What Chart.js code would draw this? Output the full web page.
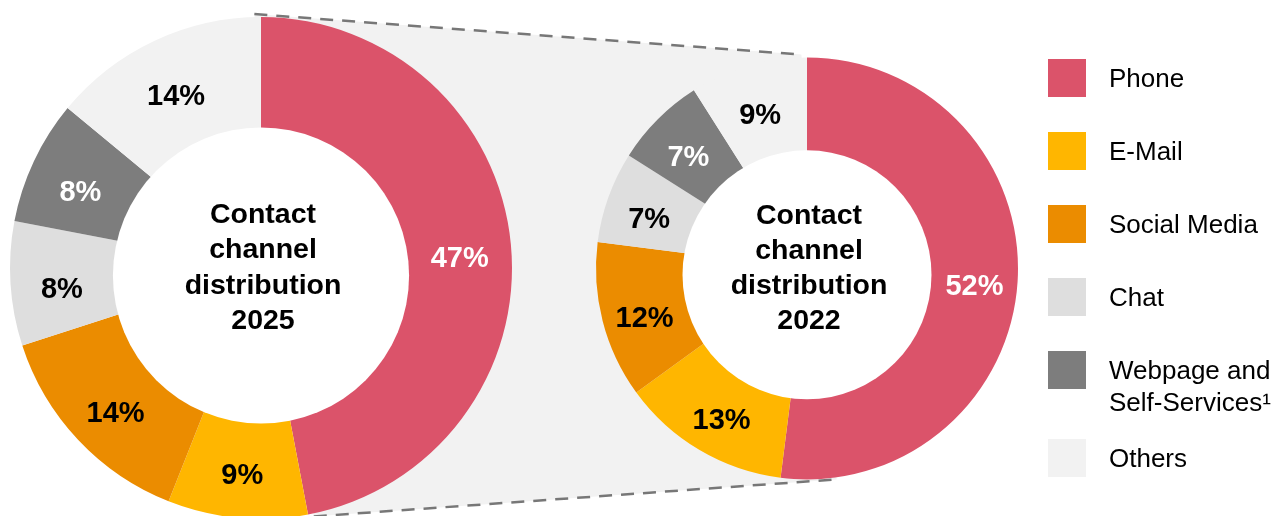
<!DOCTYPE html>
<html>
<head>
<meta charset="utf-8">
<title>Contact channel distribution</title>
<script src="https://cdn.jsdelivr.net/npm/chart.js@4.4.0/dist/chart.umd.min.js"></script>
<style>
  html, body { margin: 0; padding: 0; background: #fff; }
  #wrap { position: relative; width: 1277px; height: 516px; overflow: hidden; }
  #wrap canvas { position: absolute; left: 0; top: 0; }
  #legend { position: absolute; left: 1048px; top: 0; font-family: 'Liberation Sans', Arial, Helvetica, sans-serif; font-size: 26px; color: #000; }
  .item { position: absolute; left: 0; display: flex; align-items: flex-start; white-space: nowrap; }
  .swatch { width: 38px; height: 38px; margin-right: 23px; flex: none; }
  .item span { line-height: 32px; margin-top: 3px; }
</style>
</head>
<body>
<div id="wrap">
  <canvas id="chart2025" width="1277" height="516"></canvas>
  <canvas id="chart2022" width="1277" height="516"></canvas>
  <div id="legend"></div>
</div>
<script>
const channels = ['Phone', 'E-Mail', 'Social Media', 'Chat', ['Webpage and', 'Self-Services\u00b9'], 'Others'];
const share2025 = [47, 9, 14, 8, 8, 14];
const share2022 = [52, 13, 12, 7, 7, 9];
const channelColors = ['#db536a', '#ffb600', '#eb8c00', '#dedede', '#7d7d7d', '#f2f2f2'];
const valueColors = ['#ffffff', '#000000', '#000000', '#000000', '#ffffff', '#000000'];
const centreTitle = ['Contact', 'channel', 'distribution'];

const FONT = "'Liberation Sans', Arial, Helvetica, sans-serif";

// white disc in the middle (sits a bit low in the ring), the title, then the % labels
const ringText = {
    id: 'ringText',
    afterDatasetsDraw(chart, args, opts) {
        const ctx = chart.ctx;
        const arcs = chart.getDatasetMeta(0).data;
        const x = arcs[0].x, y = arcs[0].y, outerRadius = arcs[0].outerRadius;
        const holeR = outerRadius * opts.hole;
        const holeY = y + outerRadius * opts.drop;

        ctx.save();
        ctx.fillStyle = '#fff';
        ctx.beginPath();
        ctx.arc(x, holeY, holeR, 0, Math.PI * 2);
        ctx.fill();

        ctx.textAlign = 'center';
        ctx.textBaseline = 'alphabetic';
        ctx.font = 'bold 28.5px ' + FONT;
        ctx.fillStyle = '#000';
        centreTitle.concat(opts.year).forEach(function (line, i) {
            ctx.fillText(line, x + 2, y - 45 + i * 35.3);
        });

        ctx.font = 'bold 29px ' + FONT;
        const values = chart.data.datasets[0].data;
        const labelR = (outerRadius + holeR) / 2;
        arcs.forEach(function (arc, i) {
            const mid = (arc.startAngle + arc.endAngle) / 2;
            ctx.fillStyle = valueColors[i];
            ctx.fillText(values[i] + '%', x + Math.cos(mid) * labelR, holeY + Math.sin(mid) * labelR + 10);
        });
        ctx.restore();
    }
};

function donut(id, values, year, radius, padding, extraPlugins) {
    return new Chart(document.getElementById(id), {
        type: 'doughnut',
        data: {
            labels: channels,
            datasets: [{
                data: values,
                backgroundColor: channelColors,
                borderWidth: 0
            }]
        },
        options: {
            responsive: false,
            animation: false,
            radius: radius,
            cutout: '55%',
            layout: { padding: padding },
            plugins: {
                legend: { display: false },
                tooltip: { enabled: false },
                ringText: { year: year, hole: 0.59, drop: 0.03 }
            }
        },
        plugins: [ringText].concat(extraPlugins || [])
    });
}

const rightChart = donut('chart2022', share2022, '2022', 211,
    { left: 596, right: 259, top: 58, bottom: 37 });

// grey band with dashed edges linking the 2025 ring to the 2022 ring
const zoomBand = {
    id: 'zoomBand',
    beforeDatasetsDraw(chart) {
        const a = chart.getDatasetMeta(0).data[0];
        const b = rightChart.getDatasetMeta(0).data[0];
        const at = function (arc, deg, gap) {
            const t = deg * Math.PI / 180, r = arc.outerRadius + gap;
            return [arc.x + Math.sin(t) * r, arc.y - Math.cos(t) * r];
        };
        const p1 = at(a, -1.5, 3), p2 = at(b, -1.5, 3), p3 = at(b, 172, 2), p4 = at(a, 168, 3);
        const ctx = chart.ctx;
        ctx.save();
        ctx.fillStyle = '#f2f2f2';
        ctx.beginPath();
        ctx.moveTo(p1[0], p1[1]);
        ctx.lineTo(p2[0], p2[1]);
        ctx.lineTo(p3[0], p3[1]);
        ctx.lineTo(p4[0], p4[1]);
        ctx.closePath();
        ctx.fill();

        ctx.strokeStyle = '#777777';
        ctx.lineWidth = 2.5;
        ctx.setLineDash([13, 9]);
        ctx.beginPath();
        ctx.moveTo(p1[0], p1[1]);
        ctx.lineTo(p2[0], p2[1]);
        ctx.moveTo(p4[0], p4[1]);
        ctx.lineTo(p3[0], p3[1]);
        ctx.stroke();
        ctx.restore();
    }
};

const leftChart = donut('chart2025', share2025, '2025', 251,
    { left: 10, right: 765, top: 28, bottom: 8 }, [zoomBand]);

// legend down the right-hand side
const legend = document.getElementById('legend');
let rowTop = 59;
channels.forEach(function (name, i) {
    const lines = [].concat(name);
    const row = document.createElement('div');
    row.className = 'item';
    row.style.top = rowTop + 'px';
    row.innerHTML = '<div class="swatch" style="background:' + channelColors[i] + '"></div><span>' + lines.join('<br>') + '</span>';
    legend.appendChild(row);
    rowTop += 73 + (lines.length - 1) * 15;
});
</script>
</body>
</html>
